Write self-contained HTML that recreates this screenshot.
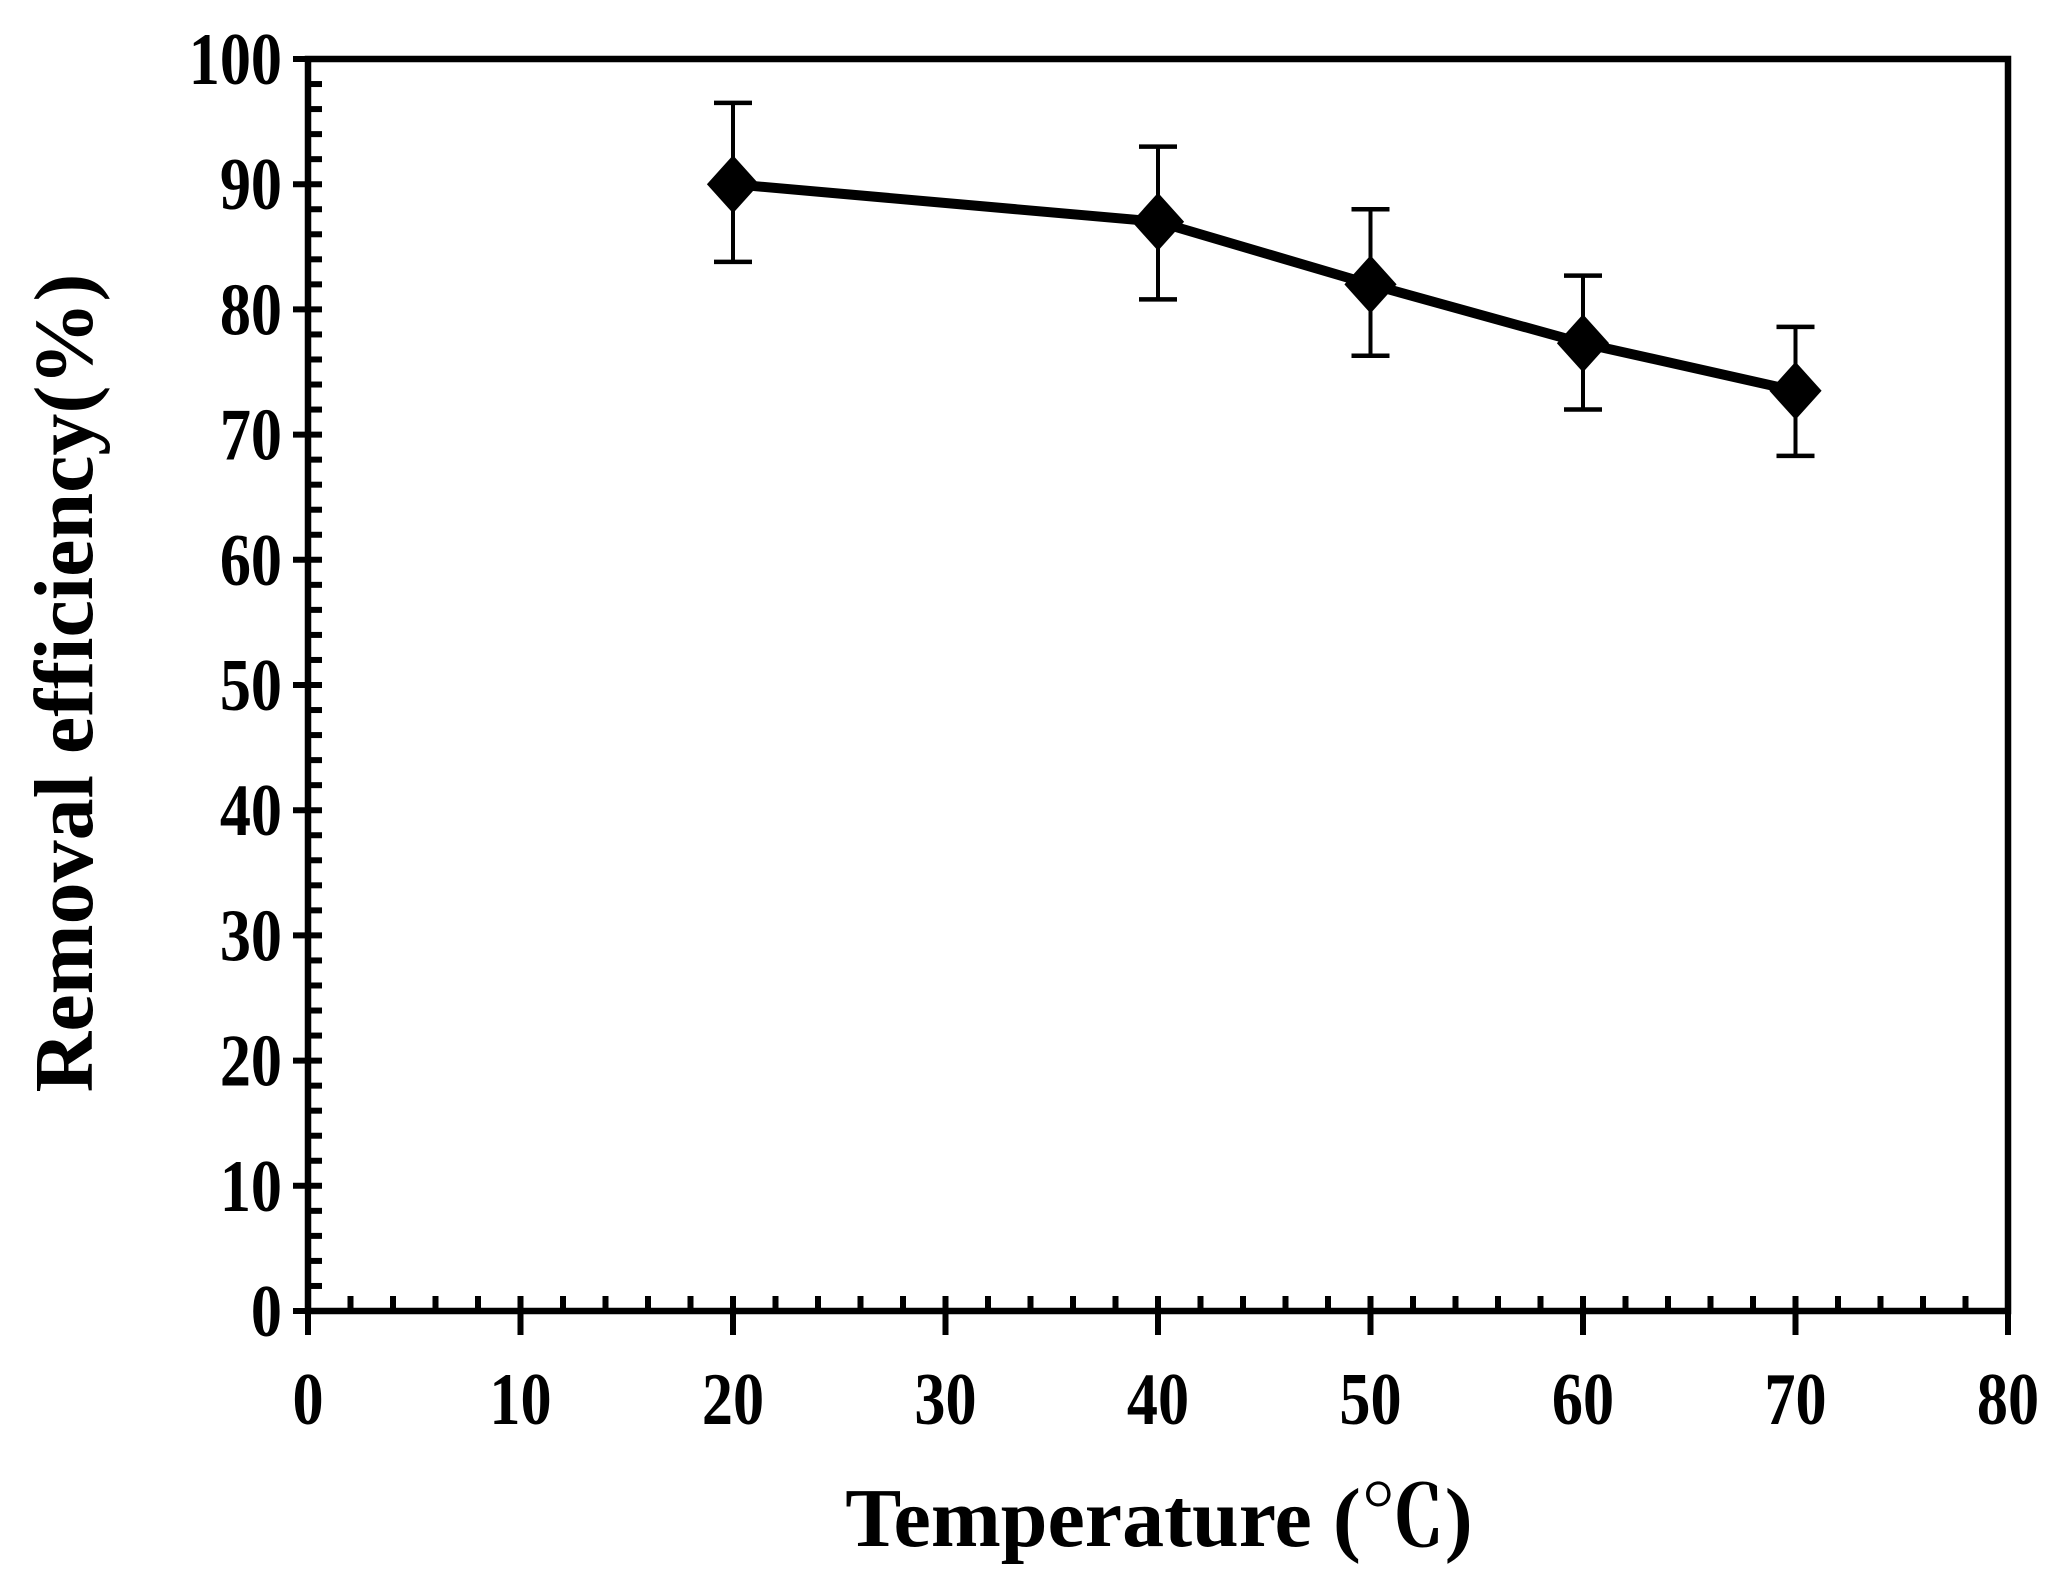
<!DOCTYPE html>
<html><head><meta charset="utf-8"><style>
html,body{margin:0;padding:0;background:#fff;}
svg{display:block;font-family:"Liberation Serif","Noto Serif CJK SC",serif;font-weight:bold;}
</style></head><body>
<svg id="chart" width="2061" height="1591" viewBox="0 0 2061 1591" xmlns="http://www.w3.org/2000/svg"></svg>
<script>
const xs = [20, 40, 50, 60, 70];
const ys = [90, 87, 82, 77.3, 73.5];
const errHi = [96.5, 93, 88, 82.7, 78.6];
const errLo = [83.8, 80.8, 76.3, 72, 68.3];
const xTicks = [0, 10, 20, 30, 40, 50, 60, 70, 80];
const yTicks = [0, 10, 20, 30, 40, 50, 60, 70, 80, 90, 100];

const NS = 'http://www.w3.org/2000/svg';
const svg = document.getElementById('chart');
const X0 = 308, X1 = 2008, Y0 = 1311, Y1 = 59;
const sx = v => X0 + (v - 0) / 80 * (X1 - X0);
const sy = v => Y0 - (v - 0) / 100 * (Y0 - Y1);
function mk(tag, attrs, parent) {
  const e = document.createElementNS(NS, tag);
  for (const k in attrs) e.setAttribute(k, attrs[k]);
  (parent || svg).appendChild(e);
  return e;
}
function line(x1, y1, x2, y2, w, g) {
  return mk('line', {x1, y1, x2, y2, stroke: '#000', 'stroke-width': w}, g);
}
const frame = mk('rect', {x: X0, y: Y1, width: X1 - X0, height: Y0 - Y1, fill: 'none', stroke: '#000', 'stroke-width': 6.5});



const yAxis = mk('g', {});


for (let v = 0; v <= 100; v += 2) {
  if (v % 10 === 0) line(X0 - 15, sy(v), X0 + 14, sy(v), 6, yAxis);
  else line(X0, sy(v), X0 + 14, sy(v), 6, yAxis);
}
yTicks.forEach(v => {
  const t = mk('text', {x: 0, y: 0, 'text-anchor': 'end', 'font-size': 74, transform: `translate(282,${sy(v) + 25}) scale(0.84,1)`}, yAxis);
  
  
  t.textContent = v;
});
const xAxis = mk('g', {});


for (let v = 0; v <= 80; v += 2) {
  if (v % 10 === 0) line(sx(v), Y0 - 15, sx(v), Y0 + 24, 6, xAxis);
  else line(sx(v), Y0 - 15, sx(v), Y0, 6, xAxis);
}
xTicks.forEach(v => {
  const t = mk('text', {x: 0, y: 0, 'text-anchor': 'middle', 'font-size': 74, transform: `translate(${sx(v)},1424) scale(0.84,1)`}, xAxis);
  
  
  t.textContent = v;
});
const xt = mk('text', {x: 1159, y: 1546, 'text-anchor': 'middle', 'font-size': 84});


xt.textContent = 'Temperature (℃)';
const yt = mk('text', {x: 0, y: 0, 'text-anchor': 'middle', 'font-size': 84, transform: 'translate(92,683) rotate(-90)'});


yt.textContent = 'Removal efficiency(%)';

const series = mk('g', {});


xs.forEach((x, i) => {
  const g = mk('g', {}, series);
  
  
  line(sx(x), sy(errHi[i]), sx(x), sy(errLo[i]), 4, g);
  line(sx(x) - 19, sy(errHi[i]), sx(x) + 19, sy(errHi[i]), 4.5, g);
  line(sx(x) - 19, sy(errLo[i]), sx(x) + 19, sy(errLo[i]), 4.5, g);
});
let d = '';
xs.forEach((x, i) => { d += (i ? 'L' : 'M') + sx(x) + ',' + sy(ys[i]); });
const p = mk('path', {d, fill: 'none', stroke: '#000', 'stroke-width': 10, 'stroke-linejoin': 'round'}, series);


xs.forEach((x, i) => {
  const cx = sx(x), cy = sy(ys[i]), r = 29;
  const m = mk('polygon', {points: `${cx},${cy - r} ${cx + r * 0.9},${cy} ${cx},${cy + r} ${cx - r * 0.9},${cy}`, fill: '#000'}, series);
  
  
});
</script>
</body></html>
